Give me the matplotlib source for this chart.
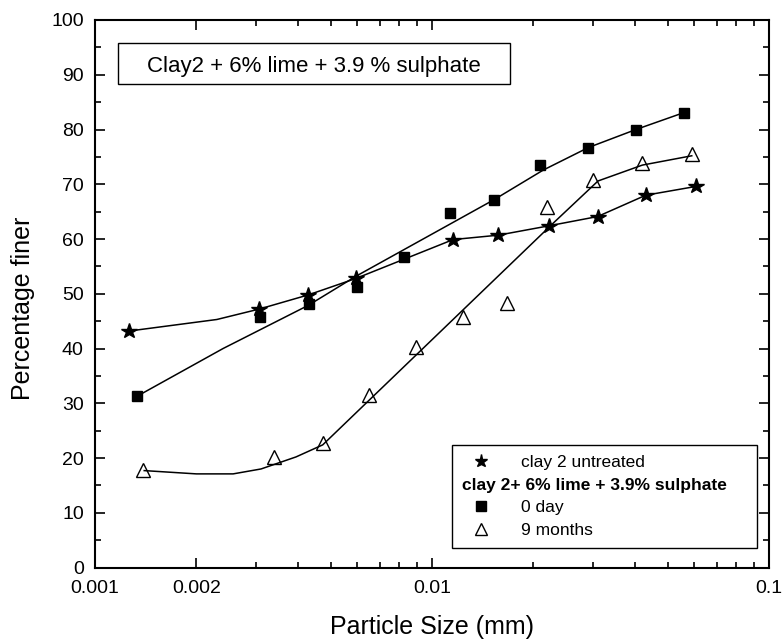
import matplotlib
matplotlib.use("Agg")
import matplotlib.pyplot as plt
from matplotlib.lines import Line2D
from matplotlib.patches import Rectangle
from matplotlib.ticker import FixedLocator, FixedFormatter, MultipleLocator, NullFormatter

plt.rcParams['font.family'] = 'Liberation Sans'

# measured points (particle size in mm, percentage finer)
untreated_size = [0.001265, 0.00307, 0.0043, 0.00595, 0.01156, 0.01573, 0.0222, 0.0310, 0.0431, 0.0607]
untreated_pct = [43.2, 47.2, 49.8, 52.8, 59.9, 60.7, 62.4, 64.1, 68.0, 69.6]

day0_size = [0.001335, 0.00309, 0.00431, 0.0060, 0.00828, 0.0113, 0.01528, 0.0209, 0.0291, 0.0403, 0.056]
day0_pct = [31.3, 45.7, 48.1, 51.3, 56.8, 64.8, 67.2, 73.5, 76.7, 80.0, 83.1]

month9_size = [0.00139, 0.0034, 0.00476, 0.00652, 0.00897, 0.0124, 0.01673, 0.0219, 0.0301, 0.0421, 0.059]
month9_pct = [17.8, 20.2, 22.8, 31.5, 40.3, 45.8, 48.3, 65.8, 70.7, 73.8, 75.5]

# fitted curves as drawn in the figure
untreated_fit_size = [0.001265, 0.0023, 0.00307, 0.0043, 0.00595, 0.01156, 0.01573, 0.0222, 0.0310, 0.0431, 0.0607]
untreated_fit_pct = [43.2, 45.3, 47.2, 49.8, 52.8, 59.9, 60.7, 62.4, 64.1, 68.0, 69.6]

day0_fit_size = [0.001335, 0.0024, 0.0043, 0.00595, 0.0153, 0.0214, 0.0291, 0.0403, 0.056]
day0_fit_pct = [31.3, 40.0, 47.9, 53.2, 67.2, 72.6, 76.7, 80.0, 83.1]

month9_fit_size = [0.0014, 0.002, 0.00257, 0.00311, 0.00395, 0.00474, 0.00652, 0.0229, 0.0311, 0.0421, 0.059]
month9_fit_pct = [17.7, 17.1, 17.1, 18.0, 20.2, 22.4, 30.6, 62.9, 70.6, 73.5, 75.2]

xticks = [0.001, 0.002, 0.01, 0.1]
xtick_labels = ['0.001', '0.002', '0.01', '0.1']
xminor = [0.003, 0.004, 0.005, 0.006, 0.007, 0.008, 0.009,
          0.02, 0.03, 0.04, 0.05, 0.06, 0.07, 0.08, 0.09]

fig = plt.figure(figsize=(7.83, 6.43), dpi=100)
ax = fig.add_axes([0.1213, 0.1174, 0.8608, 0.8515])

ax.plot(untreated_fit_size, untreated_fit_pct, color='black', lw=1.1)
ax.plot(day0_fit_size, day0_fit_pct, color='black', lw=1.1)
ax.plot(month9_fit_size, month9_fit_pct, color='black', lw=1.1)

ax.plot(untreated_size, untreated_pct, ls='none', marker='*', ms=11.5,
        mfc='black', mec='black', zorder=3)
ax.plot(day0_size, day0_pct, ls='none', marker='s', ms=7.5,
        mfc='black', mec='black', zorder=3)
ax.plot(month9_size, month9_pct, ls='none', marker='^', ms=10,
        mfc='none', mec='black', mew=1.0, zorder=3)

ax.set_xscale('log')
ax.set_xlim(0.001, 0.1)
ax.set_ylim(0, 100)
ax.xaxis.set_major_locator(FixedLocator(xticks))
ax.xaxis.set_major_formatter(FixedFormatter(xtick_labels))
ax.xaxis.set_minor_locator(FixedLocator(xminor))
ax.xaxis.set_minor_formatter(NullFormatter())
ax.yaxis.set_major_locator(MultipleLocator(10))
ax.yaxis.set_minor_locator(MultipleLocator(5))

ax.tick_params(which='both', direction='in', top=True, right=True, width=1.2)
ax.tick_params(which='major', length=7.5, labelsize=14)
ax.tick_params(axis='x', which='major', pad=9)
ax.tick_params(axis='y', which='major', pad=8)
ax.tick_params(which='minor', length=4)
for s in ax.spines.values():
    s.set_linewidth(1.5)

ax.set_xlabel('Particle Size (mm)', fontsize=18, labelpad=13)
ax.set_ylabel('Percentage finer', fontsize=18)
ax.yaxis.set_label_coords(-0.089, 0.474)

# title box
ax.add_patch(Rectangle((0.0341, 0.8831), 0.5816, 0.0749, transform=ax.transAxes,
                       fill=False, ec='black', lw=1.0, zorder=4))
ax.text(0.325, 0.9056, 'Clay2 + 6% lime + 3.9 % sulphate', transform=ax.transAxes,
        ha='center', va='baseline', fontsize=16, zorder=5)

# legend
handles = [
    Line2D([], [], ls='none', marker='*', ms=9.5, mfc='black', mec='black'),
    Line2D([], [], ls='none'),
    Line2D([], [], ls='none', marker='s', ms=6.5, mfc='black', mec='black'),
    Line2D([], [], ls='none', marker='^', ms=8, mfc='none', mec='black'),
]
labels = ['clay 2 untreated', 'clay 2+ 6% lime + 3.9% sulphate', '0 day', '9 months']
leg = ax.legend(handles, labels, loc='lower left', bbox_to_anchor=(0.5297, 0.0356, 0.4525, 0.1),
                mode='expand', borderaxespad=0, fontsize=12.5, fancybox=False, frameon=True,
                edgecolor='black', framealpha=1, handlelength=2.1,
                handletextpad=1.3, labelspacing=0.42, borderpad=0.6)
leg.get_frame().set_linewidth(1.0)
heading = leg.get_texts()[1]
heading.set_fontweight('bold')
# heading row has no marker: drop its handle box so the text starts at the left
try:
    column = leg._legend_handle_box.get_children()[0]
    row = column.get_children()[1]
    row._children = [row._children[1]]
except Exception:
    pass

fig.savefig('out.png', dpi=100)
